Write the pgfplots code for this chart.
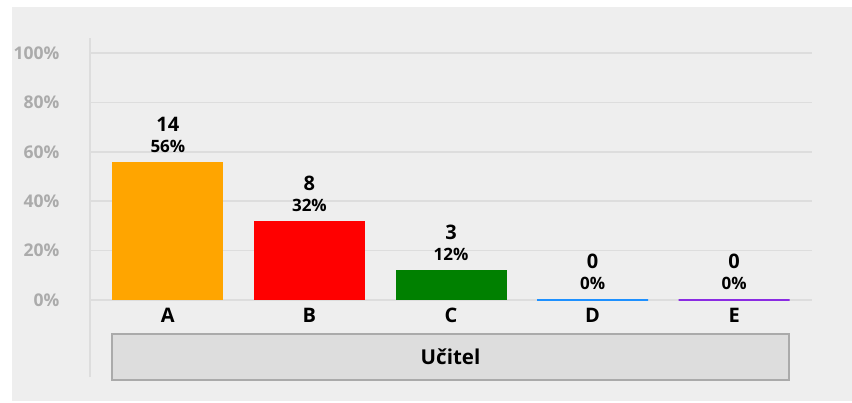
\documentclass[border=0pt]{standalone}
\usepackage{fontspec}
\setmainfont{Open Sans}
\usepackage{pgfplots}
\pgfplotsset{compat=1.18}
\definecolor{panel}{HTML}{EEEEEE}
\definecolor{gridgray}{HTML}{DDDDDD}
\definecolor{ticktext}{HTML}{ABABAB}
\definecolor{boxfill}{HTML}{DDDDDD}
\definecolor{boxedge}{HTML}{AAAAAA}
\definecolor{cA}{HTML}{FFA500}
\definecolor{cB}{HTML}{FF0000}
\definecolor{cC}{HTML}{008000}
\definecolor{cD}{HTML}{1E90FF}
\definecolor{cE}{HTML}{8A2BE2}
\begin{document}
\begin{tikzpicture}[x=1bp,y=1bp]
\useasboundingbox (0,0) rectangle (852,402);
\fill[white] (0,0) rectangle (852,402);
\fill[panel] (12,1) rectangle (852,395);
\begin{axis}[
  at={(90bp,25bp)}, anchor=south west,
  scale only axis, width=722bp, height=339bp,
  xmin=-0.55, xmax=4.55, ymin=-31.2, ymax=106.1,
  axis lines*=left,
  x axis line style={draw=none},
  y axis line style={draw=gridgray, line width=1.5bp},
  major tick length=0pt,
  ytick={0,20,40,60,80,100},
  yticklabel={\pgfmathprintnumber{\tick}\%},
  yticklabel style={font=\fontsize{17.5bp}{19bp}\selectfont\bfseries, text=ticktext, anchor=east, xshift=-27bp},
  xtick={0,1,2,3,4},
  xticklabels={A,B,C,D,E},
  xticklabel style={font=\fontsize{20bp}{22bp}\selectfont\bfseries, text=black, anchor=center, yshift=62bp},
  ymajorgrids, grid style={gridgray, line width=1.5bp},
  /pgf/number format/assume math mode=true,
  ybar, bar width=111bp, bar shift=0pt,
  visualization depends on={value \thisrow{n} \as \cnt},
  visualization depends on={value \thisrow{p} \as \pct},
  nodes near coords={{\fontsize{20bp}{21bp}\selectfont\cnt}\\\pct\%},
  every node near coord/.append style={align=center, inner sep=0pt, yshift=9bp, text=black, font=\fontsize{17bp}{21bp}\selectfont\bfseries},
  clip=false,
]
\addplot[fill=cA, draw=none] table {
x y n p
0 56 14 56
};
\addplot[fill=cB, draw=none] table {
x y n p
1 32 8 32
};
\addplot[fill=cC, draw=none] table {
x y n p
2 12 3 12
};
\addplot[fill=cD, draw=cD, line width=2bp] table {
x y n p
3 0 0 0
};
\addplot[fill=cE, draw=cE, line width=2bp] table {
x y n p
4 0 0 0
};
\end{axis}
\draw[fill=boxfill, draw=boxedge, line width=1.5bp] (112,22) rectangle (789,68);
\node[font=\fontsize{20.5bp}{22bp}\selectfont\bfseries] at (450.5,45) {Učitel};
\end{tikzpicture}
\end{document}
